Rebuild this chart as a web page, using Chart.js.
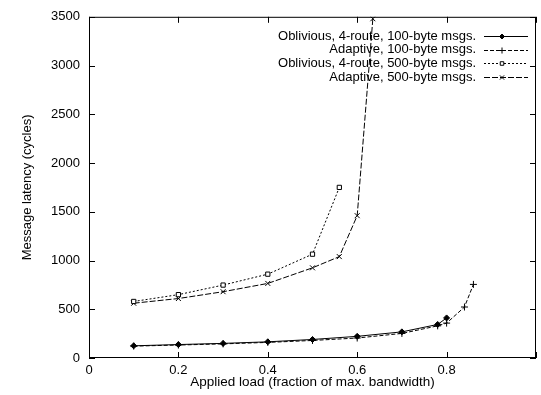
<!DOCTYPE html>
<html>
<head>
<meta charset="utf-8">
<script src="https://cdn.jsdelivr.net/npm/chart.js@4"></script>
<style>
  html, body { margin: 0; padding: 0; background: #fff; }
  #wrap { width: 541px; height: 395px; }
</style>
</head>
<body>
<div id="wrap"><canvas id="chart" width="541" height="395"></canvas></div>
<script>
// values
const oblivious100X = [0.1, 0.2, 0.3, 0.4, 0.5, 0.6, 0.7, 0.78, 0.8];
const oblivious100Y = [125, 138, 150, 166, 190, 222, 268, 344, 411];
const adaptive100X = [0.1, 0.2, 0.3, 0.4, 0.5, 0.6, 0.7, 0.78, 0.8, 0.84, 0.86];
const adaptive100Y = [122, 133, 145, 160, 180, 205, 252, 330, 358, 523, 755];
const oblivious500X = [0.1, 0.2, 0.3, 0.4, 0.5, 0.56];
const oblivious500Y = [580, 650, 748, 860, 1065, 1750];
const adaptive500X = [0.1, 0.2, 0.3, 0.4, 0.5, 0.56, 0.6, 0.635];
const adaptive500Y = [562, 610, 680, 765, 925, 1040, 1460, 3480];

const seriesLabels = [
  "Oblivious, 4-route, 100-byte msgs.",
  "Adaptive, 100-byte msgs.",
  "Oblivious, 4-route, 500-byte msgs.",
  "Adaptive, 500-byte msgs."
];
const xTicks = [0, 0.2, 0.4, 0.6, 0.8, 1];
const yTicks = [0, 500, 1000, 1500, 2000, 2500, 3000, 3500];

const FONT = "'Liberation Sans', Arial, sans-serif";

function pts(xs, ys) {
  return xs.map((x, i) => ({ x: x, y: ys[i] }));
}

const datasets = [
  { label: seriesLabels[0], data: pts(oblivious100X, oblivious100Y), borderDash: [],
    pointStyle: "rectRot", pointRadius: 3, pointBackgroundColor: "#000" },
  { label: seriesLabels[1], data: pts(adaptive100X, adaptive100Y), borderDash: [4, 2],
    pointStyle: "cross", pointRadius: 3.5, pointBackgroundColor: "#000" },
  { label: seriesLabels[2], data: pts(oblivious500X, oblivious500Y), borderDash: [2, 2],
    pointStyle: "rect", pointRadius: 3, pointBackgroundColor: "#fff" },
  { label: seriesLabels[3], data: pts(adaptive500X, adaptive500Y), borderDash: [6, 2],
    pointStyle: "crossRot", pointRadius: 3.5, pointBackgroundColor: "#000" }
].map(d => Object.assign({
  borderColor: "#000",
  borderWidth: 1,
  pointBorderColor: "#000",
  pointBorderWidth: 1,
  showLine: true,
  tension: 0,
  fill: false
}, d));

// frame, inward ticks and the gnuplot style legend
const framePlugin = {
  id: "frame",
  afterDraw(chart) {
    const ctx = chart.ctx;
    const a = chart.chartArea;
    const xs = chart.scales.x, ys = chart.scales.y;
    ctx.save();
    ctx.strokeStyle = "#000";
    ctx.lineWidth = 1;
    ctx.setLineDash([]);
    ctx.strokeRect(a.left + 0.5, a.top + 0.5, a.right - a.left - 1, a.bottom - a.top - 1);
    ctx.beginPath();
    xTicks.forEach(v => {
      const px = Math.round(xs.getPixelForValue(v)) + 0.5;
      ctx.moveTo(px, a.bottom); ctx.lineTo(px, a.bottom - 6);
      ctx.moveTo(px, a.top); ctx.lineTo(px, a.top + 6);
    });
    yTicks.forEach(v => {
      const py = Math.round(ys.getPixelForValue(v)) + 0.5;
      ctx.moveTo(a.left, py); ctx.lineTo(a.left + 6, py);
      ctx.moveTo(a.right, py); ctx.lineTo(a.right - 6, py);
    });
    ctx.stroke();

    // legend
    ctx.font = "13px " + FONT;
    ctx.textAlign = "right";
    ctx.textBaseline = "middle";
    const textRight = 476, lineL = 484, lineR = 528;
    chart.data.datasets.forEach((ds, i) => {
      const y = 36 + i * 13.7;
      ctx.fillStyle = "#000";
      ctx.fillText(ds.label, textRight, y);
      ctx.setLineDash(ds.borderDash);
      ctx.beginPath();
      ctx.moveTo(lineL, Math.round(y) + 0.5);
      ctx.lineTo(lineR, Math.round(y) + 0.5);
      ctx.stroke();
      ctx.setLineDash([]);
      ctx.fillStyle = ds.pointBackgroundColor;
      Chart.helpers.drawPoint(ctx, {
        pointStyle: ds.pointStyle, radius: ds.pointRadius - 0.5, rotation: 0, borderWidth: 1
      }, (lineL + lineR) / 2 - 4, Math.round(y) + 0.5);
    });
    ctx.restore();
  }
};

new Chart(document.getElementById("chart"), {
  type: "scatter",
  data: { datasets: datasets },
  options: {
    responsive: false,
    animation: false,
    events: [],
    layout: { padding: { top: 15, right: 1, left: 0, bottom: 0 } },
    plugins: {
      legend: { display: false },
      tooltip: { enabled: false }
    },
    scales: {
      x: {
        type: "linear",
        min: 0,
        max: 1,
        afterFit(scale) { scale.height = 37; },
        afterBuildTicks(scale) { scale.ticks = xTicks.map(v => ({ value: v })); },
        grid: { display: false, drawTicks: false },
        border: { display: false },
        ticks: {
          color: "#000",
          padding: 5,
          maxRotation: 0,
          font: { family: FONT, size: 13 },
          callback: v => (v === 1 ? "" : String(v))
        },
        title: {
          display: true,
          text: "Applied load (fraction of max. bandwidth)",
          color: "#000",
          font: { family: FONT, size: 13.5 },
          padding: { top: 0, bottom: 5 }
        }
      },
      y: {
        type: "linear",
        min: 0,
        max: 3500,
        afterFit(scale) { scale.width = 89; },
        afterBuildTicks(scale) { scale.ticks = yTicks.map(v => ({ value: v })); },
        grid: { display: false, drawTicks: false },
        border: { display: false },
        ticks: {
          color: "#000",
          padding: 9,
          font: { family: FONT, size: 13 },
          callback: v => String(v)
        },
        title: {
          display: true,
          text: "Message latency (cycles)",
          color: "#000",
          font: { family: FONT, size: 13 },
          padding: { top: 20, bottom: 0 }
        }
      }
    }
  }
  ,
  plugins: [framePlugin]
});
</script>
</body>
</html>
